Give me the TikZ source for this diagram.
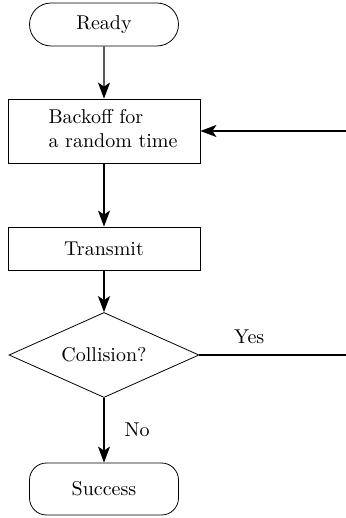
\documentclass[tikz,border=0pt]{standalone}
\usetikzlibrary{shapes.geometric,shapes.misc,arrows.meta}
\begin{document}
\begin{tikzpicture}[x=0.5pt,y=-0.5pt,
  every node/.style={font=\normalsize},
  startstop/.style={draw, rounded rectangle, minimum width=74.5pt, minimum height=21.5pt, inner sep=0pt, line width=0.4pt},
  endbox/.style={draw, rectangle, rounded corners=8.5pt, minimum width=74.5pt, minimum height=26pt, inner sep=0pt, line width=0.4pt},
  procbox/.style={draw, rectangle, minimum width=96pt, inner sep=0pt, line width=0.4pt},
  decision/.style={draw, diamond, aspect=2.235, minimum width=95pt, minimum height=42.5pt, inner sep=0pt, line width=0.4pt},
  flow/.style={line width=0.6pt, -{Stealth[length=8pt, width=6pt, inset=2pt]}},
  branch/.style={line width=0.6pt},
  tag/.style={inner sep=0pt}]
\useasboundingbox (0,0) rectangle (346,518);

\node[startstop] (ready) at (104,24.5) {Ready};
\node[procbox, minimum height=32pt] (backoff) at (104,131)
  {\hspace{9pt}\begin{tabular}{@{}l@{}}Backoff for\\a random time\end{tabular}};
\node[procbox, minimum height=21.5pt] (transmit) at (104,248.5) {Transmit};
\node[decision] (collision) at (104,355) {Collision?};
\node[endbox] (success) at (104,489) {Success};

\coordinate (retry) at (346,131);
\coordinate (yesend) at (346,355);

\draw[flow] (ready) -- (backoff);
\draw[flow] (backoff) -- (transmit);
\draw[flow] (transmit) -- (collision);
\draw[flow] (collision) -- node[tag, midway, anchor=west, xshift=10pt] {No} (success);
\draw[flow] (retry) -- (backoff.east);
\draw[branch] (collision.east) -- node[tag, pos=0.34, yshift=9pt] {Yes} (yesend);
\end{tikzpicture}
\end{document}
